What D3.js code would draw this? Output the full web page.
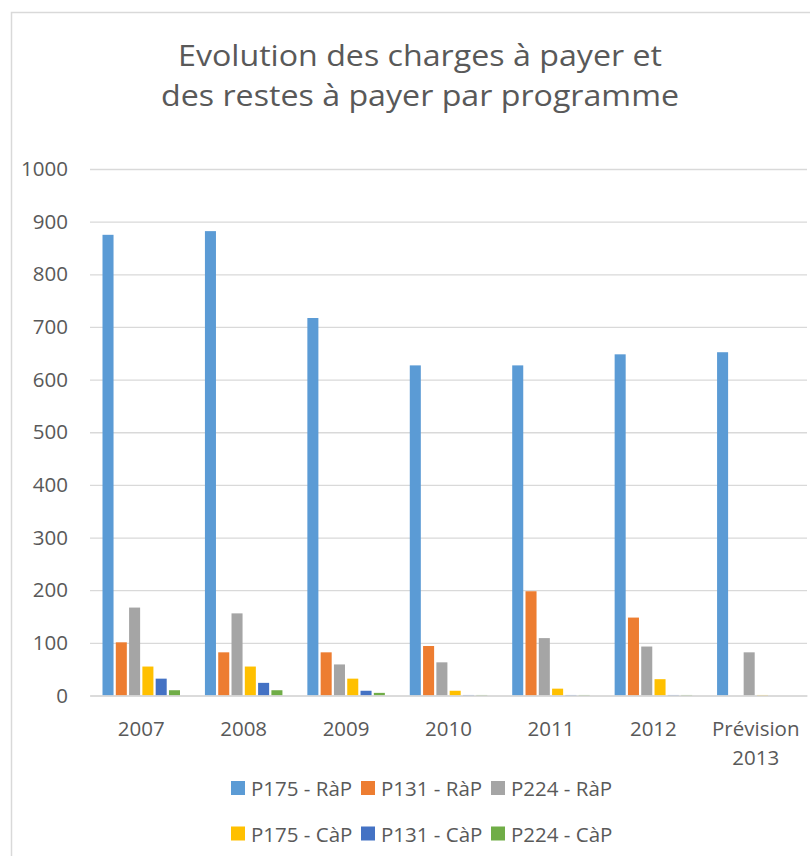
<!DOCTYPE html>
<html>
<head>
<meta charset="utf-8">
<script src="https://cdn.jsdelivr.net/npm/d3@7"></script>
<style>
  html, body { margin: 0; padding: 0; background: #fff; }
  svg { display: block; font-family: "Open Sans", "DejaVu Sans", sans-serif; }
</style>
</head>
<body>
<div id="chart"></div>
<script>
// categories and series
const categories = ["2007", "2008", "2009", "2010", "2011", "2012", "Prévision 2013"];
const seriesNames = ["P175 - RàP", "P131 - RàP", "P224 - RàP", "P175 - CàP", "P131 - CàP", "P224 - CàP"];
const p175Rap = [875, 882, 717, 627, 627, 648, 652];
const p131Rap = [101, 82, 82, 94, 198, 148, 0];
const p224Rap = [167, 156, 59, 63, 109, 93, 82];
const p175Cap = [55, 55, 32, 9, 13, 31, 1];
const p131Cap = [32, 24, 9, 1, 1, 1, 0];
const p224Cap = [10, 10, 5, 1, 1, 1, 0];
const colors = ["#5B9BD5", "#ED7D31", "#A5A5A5", "#FFC000", "#4472C4", "#70AD47"];
const yTicks = [0, 100, 200, 300, 400, 500, 600, 700, 800, 900, 1000];
const titleLines = ["Evolution des charges à payer et", "des restes à payer par programme"];

const allSeries = [p175Rap, p131Rap, p224Rap, p175Cap, p131Cap, p224Cap];

function drawChart() {
    const width = 810;
    const height = 856;
    const plot = { left: 90, right: 807, top: 169, bottom: 695.5 };
    const textColor = "#595959";
    const gridColor = "#d9d9d9";

    const svg = d3.select("#chart")
        .append("svg")
        .attr("width", width)
        .attr("height", height);

    // chart frame
    svg.append("rect")
        .attr("x", 11.5)
        .attr("y", 12.5)
        .attr("width", 840)
        .attr("height", 870)
        .attr("fill", "#fff")
        .attr("stroke", gridColor)
        .attr("stroke-width", 1.5);

    // title
    const titleWidths = [484, 518];
    svg.append("g")
        .selectAll("text")
        .data(titleLines)
        .join("text")
        .attr("x", 420)
        .attr("y", (d, i) => 66 + i * 40)
        .attr("text-anchor", "middle")
        .attr("fill", textColor)
        .style("font-size", "29px")
        .attr("textLength", (d, i) => titleWidths[i])
        .attr("lengthAdjust", "spacingAndGlyphs")
        .text((d) => d);

    const x0 = d3.scaleBand()
        .domain(categories)
        .range([plot.left, plot.right])
        .padding(0);

    const x1 = d3.scaleBand()
        .domain(seriesNames)
        .range([12.5, 90])
        .paddingInner(0.17)
        .paddingOuter(0);

    const y = d3.scaleLinear()
        .domain([0, 1000])
        .range([plot.bottom, plot.top]);

    // gridlines
    const grid = svg.append("g")
        .attr("transform", `translate(${plot.left}, 0)`)
        .call(d3.axisLeft(y).tickValues(yTicks).tickFormat("").tickSize(-(plot.right - plot.left)));
    grid.select(".domain").remove();
    grid.selectAll("line").attr("stroke", gridColor).attr("stroke-width", 1.3);

    // y axis labels
    const yAxis = svg.append("g")
        .attr("transform", `translate(${plot.left}, 0)`)
        .call(d3.axisLeft(y).tickValues(yTicks).tickFormat(d3.format("d")).tickSize(0).tickPadding(22));
    yAxis.select(".domain").remove();
    yAxis.selectAll("text")
        .attr("fill", textColor)
        .style("font-size", "20.5px")
        .style("font-family", '"Open Sans", sans-serif');

    // bars
    const rows = [];
    categories.forEach((cat, ci) => {
        seriesNames.forEach((name, si) => {
            rows.push({ cat, name, si, value: allSeries[si][ci] });
        });
    });

    svg.append("g")
        .selectAll("rect")
        .data(rows.filter((d) => d.value > 0))
        .join("rect")
        .attr("x", (d) => x0(d.cat) + x1(d.name))
        .attr("y", (d) => y(d.value))
        .attr("width", x1.bandwidth())
        .attr("height", (d) => y(0) - y(d.value))
        .attr("fill", (d) => colors[d.si]);

    // x axis baseline + labels
    const xAxis = svg.append("g")
        .attr("transform", `translate(0, ${plot.bottom})`)
        .call(d3.axisBottom(x0).tickSize(0).tickFormat(""));
    xAxis.select(".domain")
        .attr("stroke", gridColor)
        .attr("stroke-width", 1.5);

    const xLabels = svg.append("g")
        .selectAll("text")
        .data(categories)
        .join("text")
        .attr("x", (d) => x0(d) + x0.bandwidth() / 2)
        .attr("y", 736)
        .attr("text-anchor", "middle")
        .attr("fill", textColor)
        .style("font-size", "20.5px");
    xLabels.each(function (d) {
        const words = d.split(" ");
        d3.select(this)
            .selectAll("tspan")
            .data(words)
            .join("tspan")
            .attr("x", x0(d) + x0.bandwidth() / 2)
            .attr("dy", (w, i) => (i === 0 ? 0 : 29))
            .text((w) => w);
    });

    // legend
    const legend = svg.append("g")
        .selectAll("g")
        .data(seriesNames)
        .join("g")
        .attr("transform", (d, i) => `translate(${231 + (i % 3) * 130}, ${781 + Math.floor(i / 3) * 45.5})`);
    legend.append("rect")
        .attr("width", 14)
        .attr("height", 14)
        .attr("fill", (d, i) => colors[i]);
    legend.append("text")
        .attr("x", 20)
        .attr("y", 15)
        .attr("fill", textColor)
        .style("font-size", "20.5px")
        .text((d) => d);
}

drawChart();
</script>
</body>
</html>
